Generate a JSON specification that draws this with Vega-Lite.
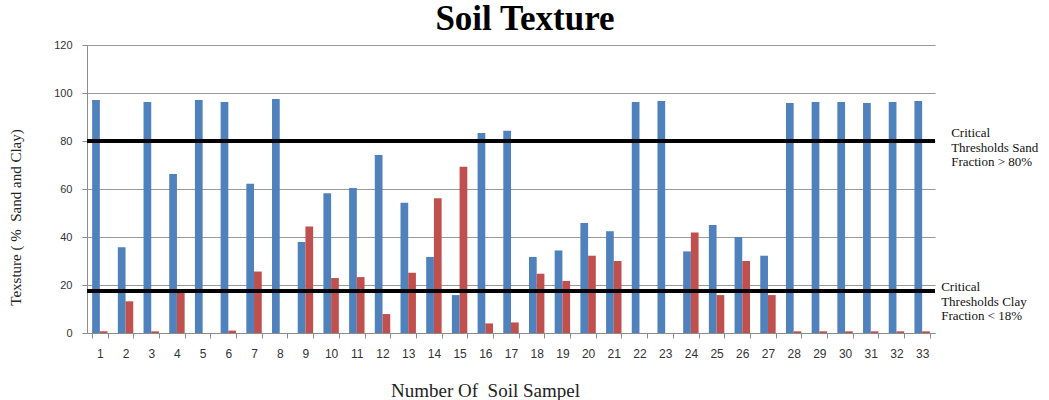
{
  "$schema": "https://vega.github.io/schema/vega-lite/v6.json",
  "width": 848,
  "height": 288,
  "autosize": {"type": "none"},
  "padding": {"left": 87, "top": 45, "right": 114, "bottom": 67},
  "background": "white",
  "title": {
    "text": "Soil Texture",
    "font": "Liberation Serif",
    "fontSize": 35,
    "fontWeight": "bold",
    "color": "black",
    "anchor": "middle",
    "offset": 2,
    "dx": 14
  },
  "config": {
    "view": {"stroke": null},
    "axis": {
      "labelFont": "Liberation Sans",
      "labelFontSize": 11,
      "labelColor": "#333333",
      "domainColor": "#8c8c8c",
      "tickColor": "#8c8c8c",
      "gridColor": "#9a9a9a",
      "titleFont": "Liberation Serif",
      "titleFontWeight": "normal",
      "titleColor": "#222222"
    }
  },
  "datasets": {
    "bars": [
      {"sample": 1, "type": "Sand", "value": 97.1}, {"sample": 1, "type": "Clay", "value": 0.7},
      {"sample": 2, "type": "Sand", "value": 35.7}, {"sample": 2, "type": "Clay", "value": 13.2},
      {"sample": 3, "type": "Sand", "value": 96.2}, {"sample": 3, "type": "Clay", "value": 0.7},
      {"sample": 4, "type": "Sand", "value": 66.2}, {"sample": 4, "type": "Clay", "value": 17.2},
      {"sample": 5, "type": "Sand", "value": 97.1}, {"sample": 5, "type": "Clay", "value": 0},
      {"sample": 6, "type": "Sand", "value": 96.2}, {"sample": 6, "type": "Clay", "value": 1},
      {"sample": 7, "type": "Sand", "value": 62.2}, {"sample": 7, "type": "Clay", "value": 25.6},
      {"sample": 8, "type": "Sand", "value": 97.5}, {"sample": 8, "type": "Clay", "value": 0},
      {"sample": 9, "type": "Sand", "value": 37.9}, {"sample": 9, "type": "Clay", "value": 44.4},
      {"sample": 10, "type": "Sand", "value": 58.2}, {"sample": 10, "type": "Clay", "value": 22.9},
      {"sample": 11, "type": "Sand", "value": 60.4}, {"sample": 11, "type": "Clay", "value": 23.3},
      {"sample": 12, "type": "Sand", "value": 74.2}, {"sample": 12, "type": "Clay", "value": 7.9},
      {"sample": 13, "type": "Sand", "value": 54.3}, {"sample": 13, "type": "Clay", "value": 25.1},
      {"sample": 14, "type": "Sand", "value": 31.7}, {"sample": 14, "type": "Clay", "value": 56.1},
      {"sample": 15, "type": "Sand", "value": 15.8}, {"sample": 15, "type": "Clay", "value": 69.3},
      {"sample": 16, "type": "Sand", "value": 83.3}, {"sample": 16, "type": "Clay", "value": 4},
      {"sample": 17, "type": "Sand", "value": 84.3}, {"sample": 17, "type": "Clay", "value": 4.4},
      {"sample": 18, "type": "Sand", "value": 31.7}, {"sample": 18, "type": "Clay", "value": 24.7},
      {"sample": 19, "type": "Sand", "value": 34.4}, {"sample": 19, "type": "Clay", "value": 21.7},
      {"sample": 20, "type": "Sand", "value": 45.8}, {"sample": 20, "type": "Clay", "value": 32.2},
      {"sample": 21, "type": "Sand", "value": 42.4}, {"sample": 21, "type": "Clay", "value": 30},
      {"sample": 22, "type": "Sand", "value": 96.2}, {"sample": 22, "type": "Clay", "value": 0},
      {"sample": 23, "type": "Sand", "value": 96.7}, {"sample": 23, "type": "Clay", "value": 0},
      {"sample": 24, "type": "Sand", "value": 34}, {"sample": 24, "type": "Clay", "value": 41.9},
      {"sample": 25, "type": "Sand", "value": 45}, {"sample": 25, "type": "Clay", "value": 15.8},
      {"sample": 26, "type": "Sand", "value": 40}, {"sample": 26, "type": "Clay", "value": 30},
      {"sample": 27, "type": "Sand", "value": 32.2}, {"sample": 27, "type": "Clay", "value": 15.8},
      {"sample": 28, "type": "Sand", "value": 95.8}, {"sample": 28, "type": "Clay", "value": 0.7},
      {"sample": 29, "type": "Sand", "value": 96.2}, {"sample": 29, "type": "Clay", "value": 0.7},
      {"sample": 30, "type": "Sand", "value": 96.2}, {"sample": 30, "type": "Clay", "value": 0.7},
      {"sample": 31, "type": "Sand", "value": 95.8}, {"sample": 31, "type": "Clay", "value": 0.7},
      {"sample": 32, "type": "Sand", "value": 96.2}, {"sample": 32, "type": "Clay", "value": 0.7},
      {"sample": 33, "type": "Sand", "value": 96.7}, {"sample": 33, "type": "Clay", "value": 0.7}
    ],
    "thresholds": [
      {"name": "Sand", "threshold": 80, "label": ["Critical", "Thresholds Sand", "Fraction > 80%"]},
      {"name": "Clay", "threshold": 17.5, "label": ["Critical", "Thresholds Clay", "Fraction < 18%"]}
    ]
  },
  "layer": [
    {
      "data": {"name": "bars"},
      "mark": {"type": "bar"},
      "encoding": {
        "x": {
          "field": "sample",
          "type": "ordinal",
          "scale": {"paddingInner": 0.4, "paddingOuter": 0.2},
          "axis": {
            "title": "Number Of\u00a0 Soil Sampel",
            "titleFontSize": 19,
            "titlePadding": 22,
            "titleX": 398,
            "labelAngle": 0,
            "labelPadding": 10,
            "labelFontSize": 12,
            "tickBand": "extent",
            "tickSize": 5,
            "domainColor": "#8c8c8c"
          }
        },
        "xOffset": {"field": "type", "type": "nominal", "sort": ["Sand", "Clay"], "scale": {"paddingInner": 0}},
        "y": {
          "field": "value",
          "type": "quantitative",
          "scale": {"domain": [0, 120]},
          "axis": {
            "title": "Texsture ( %\u00a0 Sand and Clay)",
            "titleFontSize": 15,
            "titlePadding": 30,
            "titleY": 172,
            "values": [0, 20, 40, 60, 80, 100, 120],
            "tickSize": 5,
            "labelPadding": 10,
            "grid": true
          }
        },
        "color": {
          "field": "type",
          "type": "nominal",
          "scale": {"domain": ["Sand", "Clay"], "range": ["#4F81BD", "#C0504D"]},
          "legend": null
        }
      }
    },
    {
      "data": {"name": "thresholds"},
      "mark": {"type": "rule", "color": "black", "strokeWidth": 4},
      "encoding": {
        "y": {"field": "threshold", "type": "quantitative"}
      }
    },
    {
      "data": {"name": "thresholds"},
      "transform": [{"filter": "datum.name === 'Sand'"}],
      "mark": {"type": "text", "align": "left", "baseline": "top", "dx": 29, "dy": -14, "font": "Liberation Serif", "fontSize": 13, "lineHeight": 14.5, "color": "#111111"},
      "encoding": {
        "x": {"datum": 33, "type": "ordinal"},
        "y": {"field": "threshold", "type": "quantitative"},
        "text": {"field": "label"}
      }
    },
    {
      "data": {"name": "thresholds"},
      "transform": [{"filter": "datum.name === 'Clay'"}],
      "mark": {"type": "text", "align": "left", "baseline": "top", "dx": 19, "dy": -10, "font": "Liberation Serif", "fontSize": 13, "lineHeight": 14.5, "color": "#111111"},
      "encoding": {
        "x": {"datum": 33, "type": "ordinal"},
        "y": {"field": "threshold", "type": "quantitative"},
        "text": {"field": "label"}
      }
    }
  ]
}
